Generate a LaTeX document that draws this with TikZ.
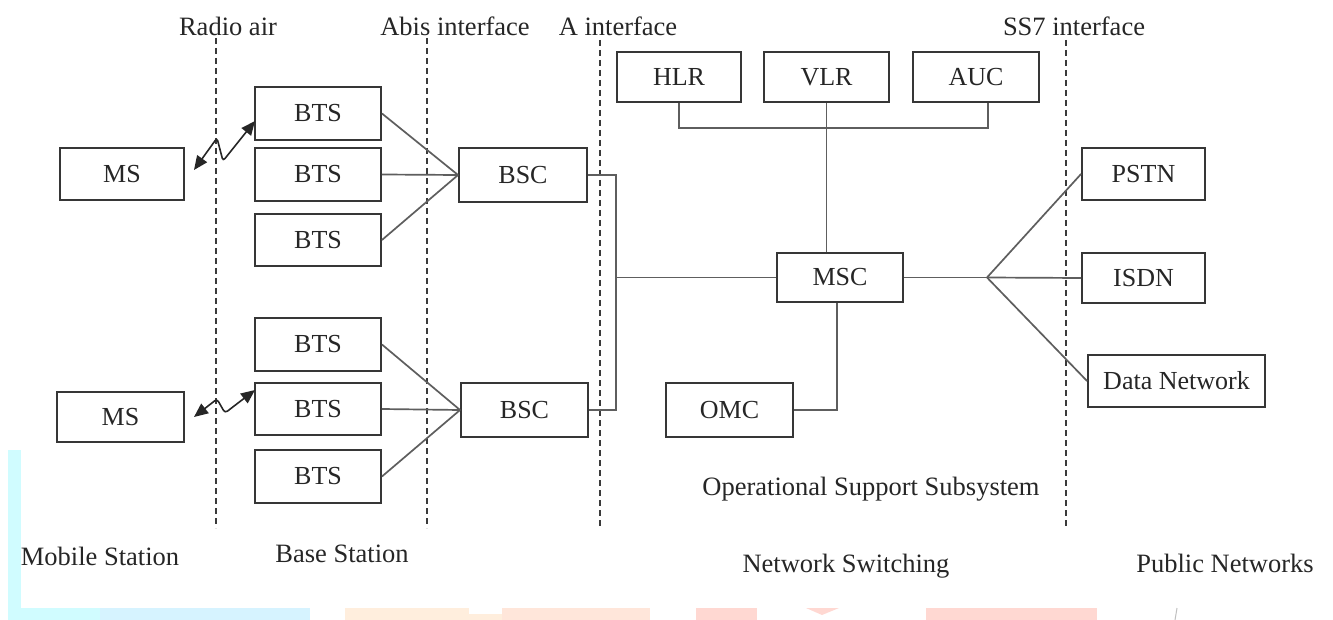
\documentclass[tikz,border=0pt]{standalone}
\usepackage{fontspec}
\setmainfont{Liberation Serif}
\usetikzlibrary{arrows.meta}
\definecolor{boxline}{HTML}{363636}
\definecolor{conline}{HTML}{5E5E5E}
\definecolor{dashline}{HTML}{3A3A3A}
\definecolor{cyanA}{HTML}{D0FCFF}
\definecolor{cyanB}{HTML}{D6F3FF}
\definecolor{orangeA}{HTML}{FFEEDD}
\definecolor{orangeB}{HTML}{FFE6DA}
\definecolor{pinkA}{HTML}{FFD8D2}
\tikzset{
  unitbox/.style={draw=boxline, line width=1.9pt, inner sep=0pt, font=\fontsize{26}{30}\selectfont, text=black!85},
  conn/.style={draw=conline, line width=1.7pt},
  ifline/.style={draw=dashline, line width=1.6pt, dash pattern=on 6pt off 4pt},
  lbl/.style={inner sep=0pt, anchor=base, font=\fontsize{26.5}{30}\selectfont, text=black!85},
  radio/.style={draw=black!85, line width=1.6pt, rounded corners=3pt, {Triangle[length=14pt,width=12pt]}-{Triangle[length=14pt,width=12pt]}}
}
\newcommand{\bx}[6]{\node[unitbox, minimum width=#4, minimum height=#5] (#1) at (#2,#3) {#6};}
\begin{document}
\begin{tikzpicture}[x=1pt,y=-1pt]
\useasboundingbox (0,0) rectangle (1333,620);
\fill[white] (0,0) rectangle (1333,620);
% background colour band
\fill[cyanA] (8,450) rectangle (21,620);
\fill[cyanA] (21,608) rectangle (100,620);
\fill[cyanB] (100,608) rectangle (310,620);
\fill[orangeA] (345,608) rectangle (502,620);
\fill[orangeB] (502,608) rectangle (650,620);
\fill[white] (469,608) rectangle (502,614);
\fill[pinkA] (696,608) rectangle (757,620);
\fill[pinkA] (806,608) -- (839,608) -- (822,615) -- cycle;
\fill[pinkA] (926,608) rectangle (1097,620);
\draw[black!25, line width=1pt] (1177,608) -- (1175,620);
% interface lines
\draw[ifline] (216,38) -- (216,528);
\draw[ifline] (427,38) -- (427,528);
\draw[ifline] (600,40) -- (600,528);
\draw[ifline] (1066,40) -- (1066,528);
\node[lbl] (lradio) at (228,36) {Radio air};
\node[lbl] (labis) at (455,36) {Abis interface};
\node[lbl] (la) at (618,36) {A interface};
\node[lbl] (lss7) at (1074,36) {SS7 interface};
% boxes
\bx{MS1}{122}{174}{124}{52}{MS}
\bx{MS2}{120.5}{417}{127}{50}{MS}
\bx{BTS1}{318}{113.5}{126}{53}{BTS}
\bx{BTS2}{318}{174.5}{126}{53}{BTS}
\bx{BTS3}{318}{240}{126}{52}{BTS}
\bx{BTS4}{318}{344.5}{126}{53}{BTS}
\bx{BTS5}{318}{409}{126}{52}{BTS}
\bx{BTS6}{318}{476.5}{126}{53}{BTS}
\bx{BSC1}{523}{175}{128}{54}{BSC}
\bx{BSC2}{524.5}{410}{127}{54}{BSC}
\bx{HLR}{679}{77}{124}{50}{HLR}
\bx{VLR}{826.5}{77}{125}{50}{VLR}
\bx{AUC}{976}{77}{126}{50}{AUC}
\bx{MSC}{840}{277.5}{126}{49}{MSC}
\bx{OMC}{729.5}{410}{127}{54}{OMC}
\bx{PSTN}{1143.5}{174}{123}{52}{PSTN}
\bx{ISDN}{1143.5}{278}{123}{50}{ISDN}
\bx{DN}{1176.5}{381}{177}{52}{Data Network}
% BTS to BSC
\foreach \b in {BTS1,BTS2,BTS3} \draw[conn] (\b.east) -- (BSC1.west);
\foreach \b in {BTS4,BTS5,BTS6} \draw[conn] (\b.east) -- (BSC2.west);
% BSC to MSC
\coordinate (bus) at (616,277.5);
\draw[conn] (BSC1.east) -| (bus) |- (BSC2.east);
\draw[conn] (bus) -- (MSC.west);
% registers
\coordinate (regbus) at (826.5,128);
\draw[conn] (HLR.south) |- (regbus) -| ([xshift=12pt]AUC.south);
\draw[conn] (VLR.south) -- (VLR.south |- MSC.north);
% OMC
\draw[conn] ([xshift=-3pt]MSC.south) |- (OMC.east);
% public networks
\coordinate (fan) at (987,277.5);
\draw[conn] (MSC.east) -- (fan);
\draw[conn] (fan) -- (PSTN.west);
\draw[conn] (fan) -- (ISDN.west);
\draw[conn] (fan) -- (DN.west);
% radio links
\coordinate (r1a) at (194,170);
\coordinate (r1b) at (255,121);
\draw[radio] (r1a) -- (217,138) -- (223,161) -- (r1b);
\coordinate (r2a) at (194,417);
\coordinate (r2b) at (255,390);
\draw[radio] (r2a) -- (217,399) -- (225,413) -- (r2b);
% labels
\node[lbl] (oss) at (871,495) {Operational Support Subsystem};
\node[lbl] (lms) at (100,565) {Mobile Station};
\node[lbl] (lbs) at (342,562) {Base Station};
\node[lbl] (lns) at (846,572) {Network Switching};
\node[lbl] (lpn) at (1225,572) {Public Networks};
\end{tikzpicture}
\end{document}
